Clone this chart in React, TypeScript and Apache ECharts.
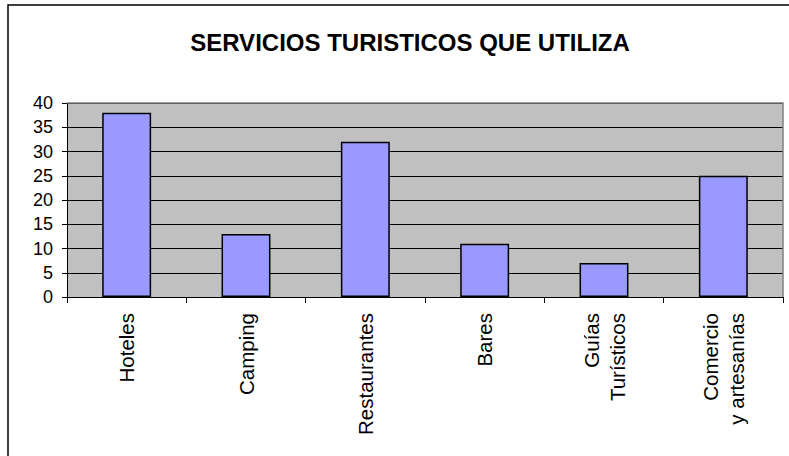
import React, { useEffect, useRef } from "react";
import * as echarts from "echarts";

const titleText = "SERVICIOS TURISTICOS QUE UTILIZA";
const categories = [
  "Hoteles",
  "Camping",
  "Restaurantes",
  "Bares",
  "Guías\nTurísticos",
  "Comercio\ny artesanías",
];
const values = [38, 13, 32, 11, 7, 25];
const yMin = 0;
const yMax = 40;
const yStep = 5;

export default function App() {
  const ref = useRef<HTMLDivElement>(null);
  useEffect(() => {
    if (!ref.current) return;
    const chart = echarts.init(ref.current, undefined, { renderer: "svg" });
    const font = "Arial, 'Liberation Sans', sans-serif";
    chart.setOption({
      animation: false,
      backgroundColor: "#ffffff",
      title: {
        text: titleText,
        left: 405,
        top: 25,
        textAlign: "center",
        textStyle: {
          fontFamily: font,
          fontWeight: "bold",
          fontSize: 24,
          color: "#000000",
        },
      },
      graphic: [
        {
          type: "rect",
          shape: { x: 8, y: 5, width: 820, height: 480 },
          style: { fill: "none", stroke: "#000000", lineWidth: 1.5 },
          silent: true,
        },
        {
          type: "polyline",
          shape: { points: [[67, 103], [783, 103], [783, 297]] },
          style: { stroke: "#808080", lineWidth: 1.5, fill: "none" },
          z: 10,
          silent: true,
        },
      ],
      grid: {
        left: 67,
        top: 103,
        width: 716,
        height: 194,
        show: true,
        backgroundColor: "#C0C0C0",
        borderWidth: 0,
      },
      xAxis: {
        type: "category",
        data: categories,
        axisLine: { show: true, lineStyle: { color: "#000000", width: 1 } },
        axisTick: {
          show: true,
          alignWithLabel: false,
          length: 6,
          lineStyle: { color: "#000000" },
        },
        axisLabel: {
          rotate: 90,
          margin: 16,
          interval: 0,
          fontFamily: font,
          fontSize: 20.5,
          lineHeight: 26,
          color: "#000000",
        },
        splitLine: { show: false },
      },
      yAxis: {
        type: "value",
        min: yMin,
        max: yMax,
        interval: yStep,
        axisLine: { show: true, lineStyle: { color: "#000000", width: 1 } },
        axisTick: { show: true, length: 5, lineStyle: { color: "#000000" } },
        axisLabel: {
          margin: 14,
          fontFamily: font,
          fontSize: 18,
          color: "#000000",
        },
        splitLine: { show: true, lineStyle: { color: "#000000", width: 1 } },
      },
      series: [
        {
          type: "bar",
          data: values,
          barWidth: "41%",
          itemStyle: {
            color: "#9999FF",
            borderColor: "#000000",
            borderWidth: 1.5,
          },
        },
      ],
    });
    return () => chart.dispose();
  }, []);
  return (
    <div
      ref={ref}
      style={{ position: "fixed", left: 0, top: 0, width: 789, height: 456 }}
    />
  );
}
